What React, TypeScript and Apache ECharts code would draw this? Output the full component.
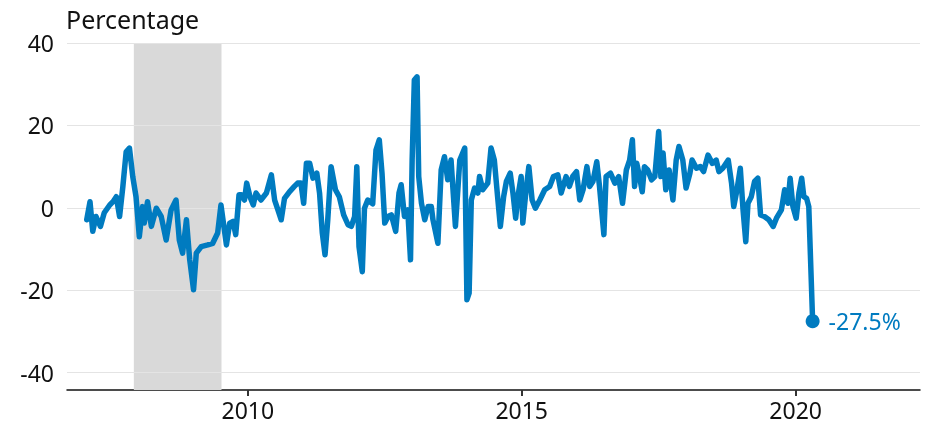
import React, { useEffect, useRef } from "react";
import * as echarts from "echarts";

const dates = [
  2007.06, 2007.12, 2007.17, 2007.23, 2007.31, 2007.38, 2007.48, 2007.54, 2007.6, 2007.66,
  2007.72, 2007.78, 2007.84, 2007.9, 2007.96, 2008.02, 2008.08, 2008.11, 2008.17, 2008.24,
  2008.33, 2008.42, 2008.51, 2008.6, 2008.69, 2008.75, 2008.81, 2008.88, 2008.94, 2009.01,
  2009.06, 2009.15, 2009.27, 2009.36, 2009.45, 2009.51, 2009.61, 2009.67, 2009.73, 2009.78,
  2009.84, 2009.88, 2009.94, 2009.98, 2010.04, 2010.1, 2010.15, 2010.24, 2010.34, 2010.43,
  2010.49, 2010.55, 2010.61, 2010.67, 2010.76, 2010.85, 2010.91, 2010.97, 2011.02, 2011.07,
  2011.13, 2011.19, 2011.26, 2011.31, 2011.36, 2011.41, 2011.46, 2011.52, 2011.6, 2011.67,
  2011.75, 2011.83, 2011.89, 2011.95, 2011.99, 2012.03, 2012.09, 2012.13, 2012.19, 2012.28,
  2012.34, 2012.4, 2012.45, 2012.5, 2012.56, 2012.62, 2012.7, 2012.76, 2012.8, 2012.86,
  2012.92, 2012.97, 2013.0, 2013.04, 2013.09, 2013.12, 2013.17, 2013.23, 2013.29, 2013.35,
  2013.38, 2013.47, 2013.53, 2013.59, 2013.65, 2013.71, 2013.79, 2013.87, 2013.96, 2014.0,
  2014.04, 2014.08, 2014.14, 2014.2, 2014.23, 2014.29, 2014.38, 2014.44, 2014.5, 2014.56,
  2014.61, 2014.67, 2014.72, 2014.79, 2014.84, 2014.89, 2014.93, 2014.99, 2015.02, 2015.08,
  2015.13, 2015.19, 2015.25, 2015.33, 2015.42, 2015.51, 2015.58, 2015.66, 2015.72, 2015.81,
  2015.87, 2015.93, 2016.0, 2016.06, 2016.12, 2016.19, 2016.24, 2016.3, 2016.37, 2016.42,
  2016.5, 2016.54, 2016.62, 2016.7, 2016.77, 2016.84, 2016.91, 2016.97, 2017.02, 2017.06,
  2017.1, 2017.15, 2017.2, 2017.24, 2017.3, 2017.37, 2017.43, 2017.5, 2017.54, 2017.58,
  2017.63, 2017.69, 2017.76, 2017.82, 2017.87, 2017.94, 2018.0, 2018.07, 2018.11, 2018.19,
  2018.26, 2018.32, 2018.4, 2018.48, 2018.55, 2018.6, 2018.67, 2018.77, 2018.83, 2018.87,
  2018.93, 2018.99, 2019.04, 2019.09, 2019.13, 2019.19, 2019.25, 2019.31, 2019.36, 2019.43,
  2019.51, 2019.59, 2019.65, 2019.74, 2019.8, 2019.86, 2019.9, 2019.95, 2020.01, 2020.06,
  2020.11, 2020.15, 2020.2, 2020.24, 2020.31,
];

const values = [
  -2.9, 1.5, -5.7, -2.1, -4.5, -1.2, 0.7, 1.5, 2.7, -2.1,
  5.2, 13.6, 14.5, 7.6, 2.7, -7, 0.3, -3.7, 1.5, -4.5,
  -0.1, -2.1, -7.8, -0.5, 1.9, -7.8, -11, -2.9, -12.6, -19.9,
  -11, -9.4, -9, -8.6, -6.1, 0.7, -9, -3.7, -3.3, -6.5,
  3.2, 3.2, 1.9, 6, 2.7, 0.7, 3.6, 1.9, 3.6, 8,
  1.9, -0.5, -2.9, 2.3, 3.9, 5.2, 6, 6, 1.1, 10.8,
  10.8, 7.2, 8.4, 3.6, -6.1, -11.4, -2.9, 10, 4.4, 2.7,
  -1.7, -4.1, -4.5, -2.1, 10, -9.4, -15.5, -0.1, 1.9, 1,
  14, 16.5, 8.4, -3.7, -2.1, -1.7, -5.7, 3.6, 5.6, -2.1,
  -0.5, -12.6, 11.6, 31, 31.8, 7.6, 1.1, -2.9, 0.3, 0.3,
  -2.9, -8.6, 9.2, 12.4, 6.8, 11.6, -4.5, 11.6, 14.5, -22.3,
  -20.7, 1.9, 4.8, 3.6, 7.6, 4.4, 6, 14.5, 11.6, 2.7,
  -4.5, 2.7, 6.4, 8.4, 3.6, -2.5, 2.7, 7.6, -3.7, 4.4,
  10, 1.9, -0.1, 1.9, 4.4, 5.2, 7.6, 8, 3.6, 7.6,
  5.2, 7.6, 8.8, 1.9, 4.4, 10, 5.2, 6.4, 11.2, 5.2,
  -6.5, 7.6, 8.4, 6, 7.6, 1.1, 9.2, 11.6, 16.5, 5.2,
  10.8, 7.6, 3.9, 10, 9.2, 6.8, 7.6, 18.5, 7.6, 13.3,
  4.4, 9.2, 1.9, 11.6, 14.9, 11.6, 4.8, 8.4, 11.6, 9.6,
  10, 8.8, 12.8, 10.8, 11.6, 8.8, 9.6, 11.6, 6, 0.3,
  4.4, 9.6, -0.5, -8.2, 1.1, 2.7, 6.4, 7.2, -1.7, -2.1,
  -2.9, -4.5, -2.5, -0.5, 4.4, 1.1, 7.2, 0.3, -2.5, 3.6,
  7.2, 2.7, 2.3, 0.3, -27.5,
];

const yTicks = [-40, -20, 0, 20, 40];
const xTicks = [2010, 2015, 2020];
const recession = [2007.92, 2009.52];
const yTitle = "Percentage";
const endLabel = "-27.5%";

const BLUE = "#007bc0";
const FONT = "'Noto Sans', sans-serif";

export default function App() {
  const ref = useRef<HTMLDivElement>(null);
  useEffect(() => {
    if (!ref.current) return;
    const chart = echarts.init(ref.current, undefined, { renderer: "svg" });
    const lineData = dates.map((d, i) => [d, values[i]]);
    const last = lineData[lineData.length - 1];
    chart.setOption({
      animation: false,
      title: {
        text: yTitle,
        left: 66,
        top: 6,
        padding: 0,
        textStyle: { fontFamily: FONT, fontSize: 25, fontWeight: "normal", color: "#111" },
      },
      grid: { left: 67, right: 7, top: 43, bottom: 35 },
      xAxis: {
        type: "value",
        min: 2006.7,
        max: 2022.27,
        splitLine: { show: false },
        axisLine: { show: true, onZero: false, lineStyle: { color: "#111", width: 1.5 } },
        axisTick: { show: true, customValues: xTicks, length: 6, lineStyle: { color: "#333", width: 2 } },
        axisLabel: {
          customValues: xTicks,
          formatter: (v: number) => String(Math.round(v)),
          fontFamily: FONT,
          fontSize: 23,
          color: "#111",
          margin: 8,
        },
      },
      yAxis: {
        type: "value",
        min: -44.2,
        max: 40,
        splitLine: { show: false },
        axisLine: { show: false },
        axisTick: { show: false },
        axisLabel: {
          customValues: yTicks,
          fontFamily: FONT,
          fontSize: 23,
          color: "#111",
          margin: 13,
        },
      },
      series: [
        {
          type: "line",
          data: lineData,
          showSymbol: false,
          symbol: "none",
          lineStyle: { color: BLUE, width: 5.5, join: "round", cap: "round" },
          z: 3,
          markArea: {
            silent: true,
            itemStyle: { color: "#d9d9d9" },
            data: [[{ xAxis: recession[0] }, { xAxis: recession[1] }]],
          },
          markLine: {
            silent: true,
            symbol: "none",
            label: { show: false },
            lineStyle: { color: "#e4e4e4", width: 1, type: "solid" },
            data: yTicks.map((t) => ({ yAxis: t })),
            z: 1,
          },
        },
        {
          type: "scatter",
          data: [last],
          symbol: "circle",
          symbolSize: 14,
          itemStyle: { color: BLUE, opacity: 1 },
          z: 4,
          label: {
            show: true,
            position: "right",
            distance: 9,
            formatter: endLabel,
            fontFamily: FONT,
            fontSize: 23,
            color: BLUE,
          },
        },
      ],
    });
    return () => chart.dispose();
  }, []);
  return (
    <div
      ref={ref}
      style={{ position: "fixed", left: 0, top: 0, width: 927, height: 425 }}
    />
  );
}
